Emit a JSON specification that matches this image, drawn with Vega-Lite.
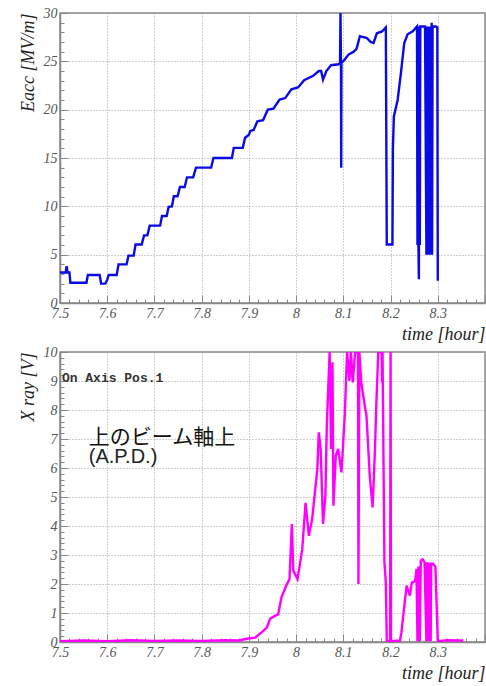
{
  "$schema": "https://vega.github.io/schema/vega-lite/v6.json",
  "padding": {"left": 18, "top": 5, "right": 0, "bottom": 0},
  "spacing": 0,
  "background": "white",
  "config": {
    "view": {"stroke": "#888888", "strokeWidth": 1.5},
    "axis": {
      "labelFont": "Liberation Serif", "labelFontStyle": "italic", "labelFontSize": 14, "labelColor": "#555555", "labelOverlap": false,
      "titleFont": "Liberation Serif", "titleFontStyle": "italic", "titleFontWeight": "normal", "titleFontSize": 18, "titleColor": "#222222",
      "domainColor": "#888888", "domainWidth": 1.5, "tickColor": "#888888", "tickSize": -8, "tickWidth": 1,
      "gridColor": "#a0a0a0", "gridDash": [1, 2], "gridWidth": 1, "labelPadding": 11, "titleAnchor": "end"
    }
  },
  "datasets": {
    "eacc": [
      {"t": 7.500, "E": 3.15}, {"t": 7.512, "E": 3.15}, {"t": 7.514, "E": 3.8}, {"t": 7.516, "E": 3.15}, {"t": 7.520, "E": 3.15},
      {"t": 7.522, "E": 2.1}, {"t": 7.556, "E": 2.1}, {"t": 7.559, "E": 2.9}, {"t": 7.584, "E": 2.9}, {"t": 7.587, "E": 2.0},
      {"t": 7.596, "E": 2.0}, {"t": 7.600, "E": 2.4}, {"t": 7.603, "E": 2.9}, {"t": 7.620, "E": 2.9}, {"t": 7.624, "E": 4.0},
      {"t": 7.641, "E": 4.0}, {"t": 7.645, "E": 4.9}, {"t": 7.656, "E": 4.9}, {"t": 7.660, "E": 6.05}, {"t": 7.673, "E": 6.05},
      {"t": 7.678, "E": 7.0}, {"t": 7.685, "E": 7.0}, {"t": 7.690, "E": 8.0}, {"t": 7.712, "E": 8.0}, {"t": 7.716, "E": 9.0},
      {"t": 7.726, "E": 9.0}, {"t": 7.730, "E": 9.95}, {"t": 7.737, "E": 10.0}, {"t": 7.741, "E": 11.05}, {"t": 7.749, "E": 11.05},
      {"t": 7.754, "E": 12.0}, {"t": 7.764, "E": 12.0}, {"t": 7.769, "E": 13.0}, {"t": 7.782, "E": 13.0}, {"t": 7.788, "E": 14.0},
      {"t": 7.820, "E": 14.0}, {"t": 7.825, "E": 15.0}, {"t": 7.864, "E": 15.0}, {"t": 7.868, "E": 16.05}, {"t": 7.887, "E": 16.05},
      {"t": 7.892, "E": 17.1}, {"t": 7.900, "E": 17.4}, {"t": 7.903, "E": 17.8}, {"t": 7.910, "E": 17.9}, {"t": 7.918, "E": 18.8},
      {"t": 7.930, "E": 18.9}, {"t": 7.940, "E": 20.0}, {"t": 7.952, "E": 20.1}, {"t": 7.965, "E": 21.05}, {"t": 7.977, "E": 21.2},
      {"t": 7.990, "E": 22.1}, {"t": 8.004, "E": 22.3}, {"t": 8.017, "E": 23.05}, {"t": 8.036, "E": 23.5}, {"t": 8.048, "E": 24.0},
      {"t": 8.053, "E": 24.0}, {"t": 8.057, "E": 23.1}, {"t": 8.061, "E": 23.6}, {"t": 8.064, "E": 24.0}, {"t": 8.074, "E": 24.6},
      {"t": 8.090, "E": 24.7}, {"t": 8.093, "E": 24.8}, {"t": 8.094, "E": 30.0}, {"t": 8.095, "E": 24.8}, {"t": 8.0955, "E": 14.0},
      {"t": 8.096, "E": 24.9}, {"t": 8.100, "E": 25.0}, {"t": 8.111, "E": 25.7}, {"t": 8.122, "E": 26.0}, {"t": 8.128, "E": 26.3},
      {"t": 8.135, "E": 27.6}, {"t": 8.150, "E": 27.4}, {"t": 8.158, "E": 27.0}, {"t": 8.164, "E": 26.9}, {"t": 8.171, "E": 27.9},
      {"t": 8.182, "E": 28.1}, {"t": 8.190, "E": 28.5}, {"t": 8.192, "E": 6.05}, {"t": 8.204, "E": 6.05}, {"t": 8.205, "E": 16.0},
      {"t": 8.207, "E": 19.3}, {"t": 8.215, "E": 21.0}, {"t": 8.222, "E": 23.8}, {"t": 8.229, "E": 26.9}, {"t": 8.236, "E": 27.8},
      {"t": 8.247, "E": 28.1}, {"t": 8.256, "E": 28.6}, {"t": 8.257, "E": 6.0}, {"t": 8.258, "E": 28.6}, {"t": 8.259, "E": 6.0},
      {"t": 8.260, "E": 2.45}, {"t": 8.261, "E": 28.6}, {"t": 8.262, "E": 6.0}, {"t": 8.263, "E": 28.6}, {"t": 8.266, "E": 28.6},
      {"t": 8.273, "E": 28.6}, {"t": 8.276, "E": 5.0}, {"t": 8.277, "E": 28.6}, {"t": 8.278, "E": 5.0}, {"t": 8.279, "E": 28.6},
      {"t": 8.280, "E": 5.0}, {"t": 8.281, "E": 28.6}, {"t": 8.282, "E": 5.0}, {"t": 8.283, "E": 28.6}, {"t": 8.284, "E": 5.0},
      {"t": 8.285, "E": 28.6}, {"t": 8.286, "E": 5.0}, {"t": 8.287, "E": 29.0}, {"t": 8.288, "E": 5.0}, {"t": 8.289, "E": 28.6},
      {"t": 8.296, "E": 28.6}, {"t": 8.299, "E": 28.5}, {"t": 8.300, "E": 2.3}
    ],
    "xray": [
      {"t": 7.500, "V": 0.03}, {"t": 7.550, "V": 0.05}, {"t": 7.600, "V": 0.03}, {"t": 7.650, "V": 0.06}, {"t": 7.700, "V": 0.04},
      {"t": 7.750, "V": 0.05}, {"t": 7.800, "V": 0.04}, {"t": 7.850, "V": 0.06}, {"t": 7.878, "V": 0.05}, {"t": 7.899, "V": 0.12},
      {"t": 7.913, "V": 0.15}, {"t": 7.927, "V": 0.33}, {"t": 7.938, "V": 0.5}, {"t": 7.945, "V": 0.8}, {"t": 7.955, "V": 0.9},
      {"t": 7.962, "V": 0.95}, {"t": 7.969, "V": 1.54}, {"t": 7.979, "V": 1.94}, {"t": 7.986, "V": 2.17}, {"t": 7.991, "V": 4.07},
      {"t": 7.994, "V": 2.46}, {"t": 8.003, "V": 2.17}, {"t": 8.013, "V": 3.2}, {"t": 8.020, "V": 4.8}, {"t": 8.027, "V": 3.66},
      {"t": 8.034, "V": 4.24}, {"t": 8.045, "V": 5.97}, {"t": 8.048, "V": 7.23}, {"t": 8.052, "V": 6.66}, {"t": 8.057, "V": 4.07},
      {"t": 8.062, "V": 5.04}, {"t": 8.065, "V": 7.46}, {"t": 8.071, "V": 10.0}, {"t": 8.074, "V": 6.66}, {"t": 8.077, "V": 9.65},
      {"t": 8.079, "V": 4.7}, {"t": 8.084, "V": 6.42}, {"t": 8.089, "V": 6.66}, {"t": 8.096, "V": 5.85}, {"t": 8.103, "V": 7.8},
      {"t": 8.108, "V": 10.0}, {"t": 8.113, "V": 9.0}, {"t": 8.116, "V": 10.0}, {"t": 8.120, "V": 8.95}, {"t": 8.125, "V": 10.0},
      {"t": 8.131, "V": 10.0}, {"t": 8.132, "V": 2.0}, {"t": 8.134, "V": 10.0}, {"t": 8.138, "V": 8.95}, {"t": 8.142, "V": 8.5},
      {"t": 8.149, "V": 7.8}, {"t": 8.156, "V": 5.73}, {"t": 8.162, "V": 4.64}, {"t": 8.167, "V": 6.66}, {"t": 8.170, "V": 8.27},
      {"t": 8.174, "V": 10.0}, {"t": 8.181, "V": 10.0}, {"t": 8.182, "V": 8.95}, {"t": 8.183, "V": 10.0}, {"t": 8.187, "V": 2.75},
      {"t": 8.190, "V": 2.05}, {"t": 8.192, "V": 0.03}, {"t": 8.199, "V": 0.03}, {"t": 8.200, "V": 10.0}, {"t": 8.201, "V": 0.03},
      {"t": 8.220, "V": 0.05}, {"t": 8.223, "V": 0.33}, {"t": 8.230, "V": 1.37}, {"t": 8.234, "V": 1.94}, {"t": 8.241, "V": 1.6},
      {"t": 8.245, "V": 2.05}, {"t": 8.252, "V": 2.1}, {"t": 8.255, "V": 2.52}, {"t": 8.257, "V": 0.03}, {"t": 8.259, "V": 2.6},
      {"t": 8.262, "V": 0.03}, {"t": 8.264, "V": 2.8}, {"t": 8.268, "V": 2.85}, {"t": 8.272, "V": 2.75}, {"t": 8.276, "V": 0.03},
      {"t": 8.277, "V": 2.75}, {"t": 8.279, "V": 0.03}, {"t": 8.280, "V": 2.75}, {"t": 8.282, "V": 0.03}, {"t": 8.283, "V": 2.7},
      {"t": 8.285, "V": 0.03}, {"t": 8.286, "V": 2.7}, {"t": 8.290, "V": 2.7}, {"t": 8.295, "V": 2.6}, {"t": 8.300, "V": 0.03},
      {"t": 8.320, "V": 0.06}, {"t": 8.350, "V": 0.05}, {"t": 8.354, "V": 0.05}
    ]
  },
  "vconcat": [
    {
      "width": 425,
      "height": 290,
      "data": {"name": "eacc"},
      "layer": [
        {
          "mark": {"type": "line", "color": "#0a0ae6", "strokeWidth": 2.4, "clip": true},
          "encoding": {
            "x": {
              "field": "t", "type": "quantitative",
              "scale": {"domain": [7.5, 8.4], "nice": false, "zero": false},
              "axis": {"orient": "bottom", "values": [7.5, 7.6, 7.7, 7.8, 7.9, 8.0, 8.1, 8.2, 8.3, 8.4], "labelExpr": "datum.value > 8.35 ? '' : format(datum.value, '~g')", "labelFlush": false, "labelOverlap": false, "title": "time [hour]", "titlePadding": 5, "grid": true}
            },
            "y": {
              "field": "E", "type": "quantitative",
              "scale": {"domain": [0, 30], "nice": false},
              "axis": {"orient": "left", "values": [0, 5, 10, 15, 20, 25, 30], "labelOverlap": false, "title": "Eacc [MV/m]", "grid": true, "titlePadding": 6}
            }
          }
        },
        {
          "mark": {"type": "line", "opacity": 0, "clip": true},
          "encoding": {
            "x": {
              "field": "t", "type": "quantitative",
              "scale": {"domain": [7.5, 8.4], "nice": false, "zero": false},
              "axis": {"orient": "bottom", "values": [7.52, 7.54, 7.56, 7.58, 7.62, 7.64, 7.66, 7.68, 7.72, 7.74, 7.76, 7.78, 7.82, 7.84, 7.86, 7.88, 7.92, 7.94, 7.96, 7.98, 8.02, 8.04, 8.06, 8.08, 8.12, 8.14, 8.16, 8.18, 8.22, 8.24, 8.26, 8.28, 8.32, 8.34, 8.36, 8.38], "labels": false, "domain": false, "grid": false, "title": null, "tickSize": -4}
            },
            "y": {
              "field": "E", "type": "quantitative",
              "scale": {"domain": [0, 30], "nice": false},
              "axis": {"orient": "left", "values": [1, 2, 3, 4, 6, 7, 8, 9, 11, 12, 13, 14, 16, 17, 18, 19, 21, 22, 23, 24, 26, 27, 28, 29], "labels": false, "domain": false, "grid": false, "title": null, "tickSize": -4}
            }
          }
        }
      ],
      "resolve": {"axis": {"x": "independent", "y": "independent"}}
    },
    {
      "width": 425,
      "height": 290,
      "layer": [
        {
          "data": {"name": "xray"},
          "mark": {"type": "line", "color": "#ff00ff", "strokeWidth": 2.4, "clip": true},
          "encoding": {
            "x": {
              "field": "t", "type": "quantitative",
              "scale": {"domain": [7.5, 8.4], "nice": false, "zero": false},
              "axis": {"orient": "bottom", "values": [7.5, 7.6, 7.7, 7.8, 7.9, 8.0, 8.1, 8.2, 8.3, 8.4], "labelExpr": "datum.value > 8.35 ? '' : format(datum.value, '~g')", "labelFlush": false, "labelOverlap": false, "title": "time [hour]", "titlePadding": 5, "grid": true}
            },
            "y": {
              "field": "V", "type": "quantitative",
              "scale": {"domain": [0, 10], "nice": false},
              "axis": {"orient": "left", "values": [0, 1, 2, 3, 4, 5, 6, 7, 8, 9, 10], "tickCount": 11, "labelExpr": "format(datum.value, 'd')", "labelOverlap": false, "labelSeparation": 0, "labelBound": false, "title": "X ray [V]", "grid": true, "titlePadding": 6}
            }
          }
        },
        {
          "data": {"name": "xray"},
          "mark": {"type": "line", "opacity": 0, "clip": true},
          "encoding": {
            "x": {
              "field": "t", "type": "quantitative",
              "scale": {"domain": [7.5, 8.4], "nice": false, "zero": false},
              "axis": {"orient": "bottom", "values": [7.52, 7.54, 7.56, 7.58, 7.62, 7.64, 7.66, 7.68, 7.72, 7.74, 7.76, 7.78, 7.82, 7.84, 7.86, 7.88, 7.92, 7.94, 7.96, 7.98, 8.02, 8.04, 8.06, 8.08, 8.12, 8.14, 8.16, 8.18, 8.22, 8.24, 8.26, 8.28, 8.32, 8.34, 8.36, 8.38], "labels": false, "domain": false, "grid": false, "title": null, "tickSize": -4}
            },
            "y": {
              "field": "V", "type": "quantitative",
              "scale": {"domain": [0, 10], "nice": false},
              "axis": {"orient": "left", "values": [0.2, 0.4, 0.6, 0.8, 1.2, 1.4, 1.6, 1.8, 2.2, 2.4, 2.6, 2.8, 3.2, 3.4, 3.6, 3.8, 4.2, 4.4, 4.6, 4.8, 5.2, 5.4, 5.6, 5.8, 6.2, 6.4, 6.6, 6.8, 7.2, 7.4, 7.6, 7.8, 8.2, 8.4, 8.6, 8.8, 9.2, 9.4, 9.6, 9.8], "labels": false, "domain": false, "grid": false, "title": null, "tickSize": -4}
            }
          }
        },
        {
          "data": {"values": [{"t": 7.504, "V": 9.1, "label": "On Axis Pos.1"}]},
          "mark": {"type": "text", "align": "left", "baseline": "middle", "font": "Liberation Mono", "fontWeight": "bold", "fontSize": 13, "color": "#333333"},
          "encoding": {"x": {"field": "t", "type": "quantitative", "axis": null}, "y": {"field": "V", "type": "quantitative", "axis": null}, "text": {"field": "label"}}
        },
        {
          "data": {"values": [{"t": 7.561, "V": 7.05, "label": "上のビーム軸上"}]},
          "mark": {"type": "text", "align": "left", "baseline": "middle", "font": "Noto Sans CJK JP", "fontSize": 21, "color": "#111111"},
          "encoding": {"x": {"field": "t", "type": "quantitative", "axis": null}, "y": {"field": "V", "type": "quantitative", "axis": null}, "text": {"field": "label"}}
        },
        {
          "data": {"values": [{"t": 7.561, "V": 6.37, "label": "(A.P.D.)"}]},
          "mark": {"type": "text", "align": "left", "baseline": "middle", "font": "Liberation Sans", "fontSize": 20, "color": "#222222"},
          "encoding": {"x": {"field": "t", "type": "quantitative", "axis": null}, "y": {"field": "V", "type": "quantitative", "axis": null}, "text": {"field": "label"}}
        }
      ],
      "resolve": {"axis": {"x": "independent", "y": "independent"}}
    }
  ]
}
